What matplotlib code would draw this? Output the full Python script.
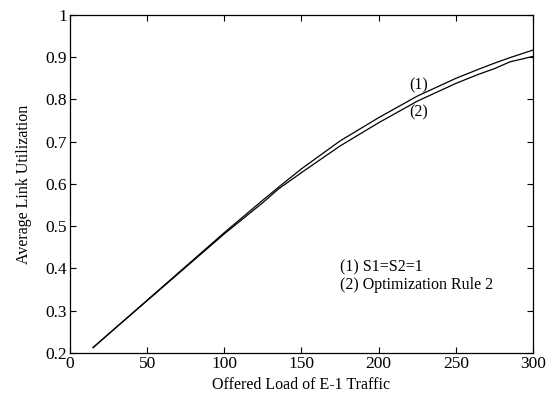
import matplotlib
matplotlib.use("Agg")
import matplotlib.pyplot as plt

# Offered load (E-1 traffic) and resulting average link utilization
load = [15, 25, 50, 75, 100, 125, 135, 150, 175, 200, 225, 250, 265, 275, 285, 300]
util_equal = [0.213, 0.245, 0.325, 0.405, 0.485, 0.562, 0.592, 0.636, 0.702, 0.757, 0.808, 0.850, 0.872, 0.886, 0.899, 0.917]
util_rule2 = [0.213, 0.245, 0.324, 0.403, 0.482, 0.556, 0.588, 0.627, 0.690, 0.745, 0.796, 0.838, 0.860, 0.873, 0.889, 0.902]

xticks = [0, 50, 100, 150, 200, 250, 300]
yticks = [0.2, 0.3, 0.4, 0.5, 0.6, 0.7, 0.8, 0.9, 1.0]
ytick_labels = ["0.2", "0.3", "0.4", "0.5", "0.6", "0.7", "0.8", "0.9", "1"]

plt.rcParams["font.family"] = ["Liberation Serif", "DejaVu Serif"]

fig = plt.figure(figsize=(5.53, 4.01), dpi=100)
ax = fig.add_axes([0.1266, 0.1197, 0.8372, 0.8429])

ax.plot(load, util_equal, color="black", linewidth=0.9)
ax.plot(load, util_rule2, color="black", linewidth=0.9)

ax.set_xlim(0, 300)
ax.set_ylim(0.2, 1.0)
ax.set_xticks(xticks)
ax.set_yticks(yticks)
ax.set_yticklabels(ytick_labels)
ax.tick_params(direction="in", top=True, right=True, length=4, width=0.8,
               labelsize=12.5, pad=2)
for s in ax.spines.values():
    s.set_linewidth(0.9)

ax.set_xlabel("Offered Load of E-1 Traffic", fontsize=11.5, labelpad=4)
ax.set_ylabel("Average Link Utilization", fontsize=11.5, labelpad=10)

ax.text(220, 0.815, "(1)", fontsize=11.5, ha="left", va="bottom")
ax.text(220, 0.788, "(2)", fontsize=11.5, ha="left", va="top")

ax.text(175, 0.402, "(1) S1=S2=1", fontsize=11.5, ha="left", va="center")
ax.text(175, 0.360, "(2) Optimization Rule 2", fontsize=11.5, ha="left", va="center")

fig.savefig("out.png", dpi=100)
